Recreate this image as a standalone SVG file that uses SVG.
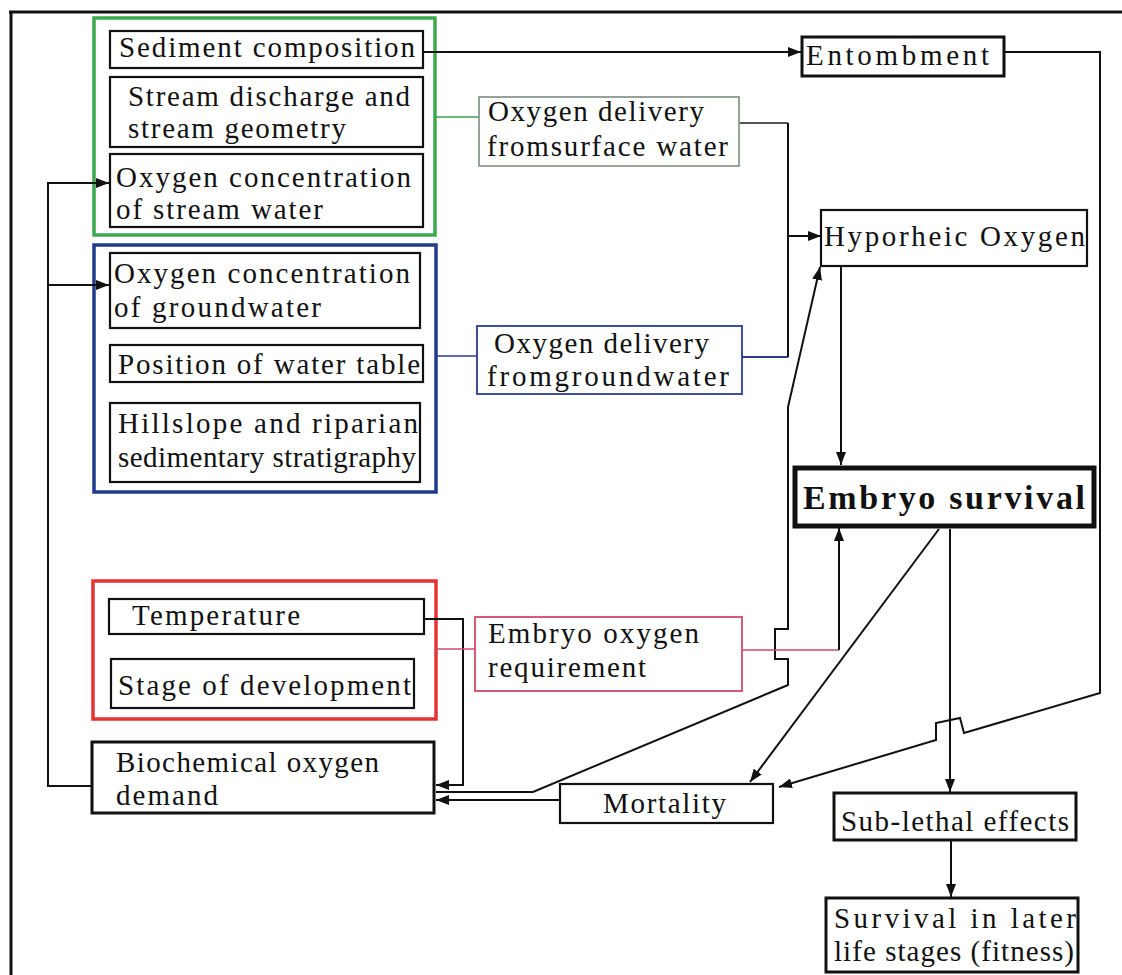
<svg xmlns="http://www.w3.org/2000/svg" width="1122" height="975" viewBox="0 0 1122 975">
<defs>
<marker id="ah" markerUnits="userSpaceOnUse" markerWidth="13" markerHeight="10" refX="13" refY="5" orient="auto">
<path d="M0,0 L13,5 L0,10 z" fill="#111"/>
</marker>
<style>
.t text{font-size:29px;fill:#111}
.b{fill:#fff;stroke:#111;stroke-width:2.2}
.bt{fill:#fff;stroke:#111;stroke-width:3}
.c{fill:none;stroke:#111;stroke-width:2}
.a{marker-end:url(#ah)}
</style>
</defs>
<rect width="1122" height="975" fill="#fff"/>
<g id="frame" fill="none" stroke="#111" stroke-width="3">
<path d="M9,12 H1122"/>
<path d="M11,12 V975"/>
</g>
<g id="group-surface">
<rect x="94" y="18" width="341" height="217" fill="none" stroke="#3da94c" stroke-width="3.5"/>
</g>
<g id="group-ground">
<rect x="94" y="245" width="342" height="247" fill="none" stroke="#1f3b8a" stroke-width="3.5"/>
</g>
<g id="group-embryo">
<rect x="93" y="581" width="343" height="138" fill="none" stroke="#e33434" stroke-width="3.5"/>
</g>
<g id="connectors">
<path class="c a" d="M423,52 H801"/>
<path class="c a" d="M1004,52 H1100 V693 L964,733 L960,718 L936,723 L936,740 L779,787"/>
<path class="c" d="M435,117 H479" style="stroke:#3f9c55;stroke-width:1.6"/>
<path class="c" d="M436,356 H477" style="stroke:#2d3a93;stroke-width:1.6"/>
<path class="c" d="M739,123 H788" style="stroke:#555;stroke-width:1.8"/>
<path class="c" d="M742,357 H788" style="stroke:#2d3a93;stroke-width:1.8"/>
<path class="c" d="M788,123 V357"/>
<path class="c a" d="M788,236 H821"/>
<path class="c a" d="M91,786 H48 V183 H109"/>
<path class="c a" d="M48,285 H109"/>
<path class="c a" d="M424,619 H463 V785 H436"/>
<path class="c a" d="M436,792 H533 L788,685 V659 H775 V629 H788 V407 L820,267"/>
<path class="c a" d="M560,800 H436"/>
<path class="c a" d="M841,266 V465"/>
<path class="c" d="M742,650 H839" style="stroke:#d24a68;stroke-width:1.6"/>
<path class="c a" d="M839,650 V528"/>
<path class="c" d="M436,649 H475" style="stroke:#d24a68;stroke-width:1.6"/>
<path class="c a" d="M939,529 L750,782"/>
<path class="c a" d="M950,529 V792"/>
<path class="c a" d="M951,840 V897"/>
</g>
<g class="t" font-family="'Liberation Serif', 'DejaVu Serif', serif">
<g id="sediment">
<rect class="b" x="110" y="31" width="313" height="37"/>
<text x="119" y="57" textLength="296">Sediment composition</text>
</g>
<g id="discharge">
<rect class="b" x="110" y="77" width="313" height="70"/>
<text x="128" y="106" textLength="282">Stream discharge and</text>
<text x="128" y="138" textLength="218">stream geometry</text>
</g>
<g id="o2-stream">
<rect class="b" x="110" y="154" width="313" height="73"/>
<text x="116" y="187" textLength="295">Oxygen concentration</text>
<text x="116" y="219" textLength="207">of  stream water</text>
</g>
<g id="o2-ground">
<rect class="b" x="110" y="253" width="310" height="75"/>
<text x="114" y="283" textLength="296">Oxygen concentration</text>
<text x="114" y="317" textLength="207">of  groundwater</text>
</g>
<g id="water-table">
<rect class="b" x="110" y="345" width="313" height="37"/>
<text x="118" y="374" textLength="302">Position of water table</text>
</g>
<g id="hillslope">
<rect class="b" x="110" y="403" width="310" height="79"/>
<text x="118" y="433" textLength="300">Hillslope and riparian</text>
<text x="118" y="467" textLength="298">sedimentary stratigraphy</text>
</g>
<g id="delivery-surface">
<rect x="479" y="97" width="260" height="69" fill="#fff" stroke="#8a9a90" stroke-width="1.8"/>
<text x="488" y="121" textLength="216">Oxygen delivery</text>
<text x="487" y="156" textLength="241">fromsurface water</text>
</g>
<g id="delivery-ground">
<rect x="477" y="326" width="265" height="68" fill="#fff" stroke="#2d3a93" stroke-width="1.8"/>
<text x="494" y="353" textLength="215">Oxygen delivery</text>
<text x="487" y="386" textLength="242">fromgroundwater</text>
</g>
<g id="entombment">
<rect class="bt" x="802" y="37" width="202" height="39"/>
<text x="806" y="65" textLength="183">Entombment</text>
</g>
<g id="hyporheic">
<rect class="b" x="821" y="210" width="266" height="56"/>
<text x="824" y="246" textLength="261">Hyporheic Oxygen</text>
</g>
<g id="embryo-survival">
<rect x="795" y="468" width="299" height="58" fill="#fff" stroke="#111" stroke-width="5"/>
<text x="803" y="509" textLength="282" font-weight="bold" style="font-size:34px">Embryo survival</text>
</g>
<g id="temperature">
<rect class="b" x="109" y="599" width="315" height="35"/>
<text x="132" y="625" textLength="168">Temperature</text>
</g>
<g id="stage">
<rect class="b" x="111" y="659" width="303" height="49"/>
<text x="118" y="695" textLength="293">Stage of development</text>
</g>
<g id="embryo-oxygen">
<rect x="475" y="617" width="267" height="74" fill="#fff" stroke="#d24a68" stroke-width="1.8"/>
<text x="488" y="643" textLength="211">Embryo oxygen</text>
<text x="488" y="677" textLength="158">requirement</text>
</g>
<g id="bod">
<rect class="bt" x="92" y="742" width="342" height="71"/>
<text x="116" y="772" textLength="263">Biochemical oxygen</text>
<text x="116" y="805" textLength="102">demand</text>
</g>
<g id="mortality">
<rect class="b" x="560" y="784" width="213" height="39"/>
<text x="603" y="813" textLength="123">Mortality</text>
</g>
<g id="sublethal">
<rect class="bt" x="834" y="793" width="242" height="47"/>
<text x="841" y="831" textLength="228">Sub-lethal effects</text>
</g>
<g id="later-survival">
<rect class="bt" x="826" y="898" width="252" height="74"/>
<text x="834" y="928" textLength="242">Survival  in  later</text>
<text x="834" y="961" textLength="240">life stages (fitness)</text>
</g>
</g>
</svg>
